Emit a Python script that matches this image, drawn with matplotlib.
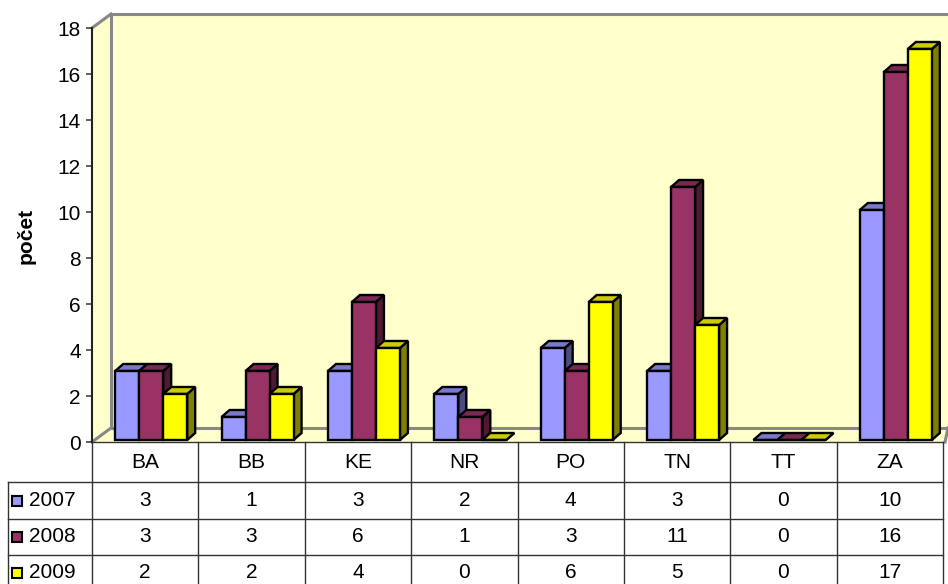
import matplotlib
matplotlib.use("Agg")
import matplotlib.pyplot as plt
from matplotlib.patches import Polygon, Rectangle
from matplotlib.transforms import blended_transform_factory
from matplotlib.lines import Line2D

plt.rcParams['font.family'] = ['Liberation Sans', 'DejaVu Sans']

categories = ["BA", "BB", "KE", "NR", "PO", "TN", "TT", "ZA"]
series_names = ["2007", "2008", "2009"]
v2007 = [3, 1, 3, 2, 4, 3, 0, 10]
v2008 = [3, 3, 6, 1, 3, 11, 0, 16]
v2009 = [2, 2, 4, 0, 6, 5, 0, 17]
values = [v2007, v2008, v2009]
yticks = list(range(0, 19, 2))
ylabel = "počet"

front_cols = ["#9999FF", "#993366", "#FFFF00"]
top_cols = ["#7A7ACC", "#7A2952", "#CCCC00"]
side_cols = ["#4C4C80", "#4D1933", "#808000"]

FS = 15
W, H = 948, 584
fig = plt.figure(figsize=(W / 100, H / 100), dpi=100)
fig.patch.set_facecolor("white")

# axes region in pixels
L, R, B, T = 92, 943, 442, 28
ax = fig.add_axes([L / W, (H - B) / H, (R - L) / W, (B - T) / H])
ax.set_xlim(-0.5, len(categories) - 0.5)
ax.set_ylim(0, 18)
ax.patch.set_visible(False)
for s in ["top", "right", "bottom"]:
    ax.spines[s].set_visible(False)
ax.spines["left"].set_color("#222222")
ax.spines["left"].set_linewidth(1.5)
ax.set_xticks([])
ax.set_yticks(yticks)
ax.tick_params(axis="y", length=4.5, width=1.2, color="#444444", labelsize=FS, pad=3.5)

pxx = (R - L) / len(categories)  # pixels per x unit
pxy = (B - T) / 18.0              # pixels per y unit
DX, DY = 19 / pxx, 14 / pxy       # wall depth
xl = -0.5
xr = len(categories) - 0.5 + 5 / pxx
wall_c = "#FFFFCC"
edge_c = "#888888"

# walls and floor
ax.add_patch(Polygon([(xl + DX, DY), (xr, DY), (xr, 18 + DY), (xl + DX, 18 + DY)],
                     closed=True, fc=wall_c, ec="none", clip_on=False, zorder=0))
ax.add_patch(Polygon([(xl, 0), (xl, 18), (xl + DX, 18 + DY), (xl + DX, DY)],
                     closed=True, fc=wall_c, ec="none", clip_on=False, zorder=0))
ax.add_patch(Polygon([(xl, 0), (xl + DX, DY), (xr, DY), (xr - 3 / pxx, 0)],
                     closed=True, fc=wall_c, ec="none", clip_on=False, zorder=0))
for xs, ys in [([xl + DX, xl + DX], [DY, 18 + DY]),
               ([xl + DX, xr], [18 + DY, 18 + DY]),
               ([xl, xl + DX], [18, 18 + DY]),
               ([xl, xl + DX], [0, DY]),
               ([xl + DX, xr], [DY, DY]),
               ([xr - 3 / pxx, xr], [0, DY])]:
    ax.add_line(Line2D(xs, ys, color=edge_c, lw=2.2, clip_on=False, zorder=1))

# bars
w = 24 / pxx
shift = 6 / pxx
bdx, bdy = 8 / pxx, 7 / pxy
y0 = 2 / pxy
for i, cat in enumerate(categories):
    for j in range(3):
        v = values[j][i]
        x0 = i - 1.5 * w + j * w + shift
        z = 3 + i * 3 + j
        side = [(x0 + w, y0), (x0 + w + bdx, y0 + bdy), (x0 + w + bdx, y0 + v + bdy), (x0 + w, y0 + v)]
        top = [(x0, y0 + v), (x0 + bdx, y0 + v + bdy), (x0 + w + bdx, y0 + v + bdy), (x0 + w, y0 + v)]
        ax.add_patch(Polygon(side, closed=True, fc=side_cols[j], ec="black", lw=1.7,
                             joinstyle="miter", clip_on=False, zorder=z))
        ax.add_patch(Polygon(top, closed=True, fc=top_cols[j], ec="black", lw=1.7,
                             joinstyle="miter", clip_on=False, zorder=z))
        ax.add_patch(Rectangle((x0, y0), w, v, fc=front_cols[j], ec="black", lw=1.7,
                               joinstyle="miter", clip_on=False, zorder=z))

fig.text(26 / W, 1 - 236 / H, ylabel, rotation=90, fontsize=FS, fontweight="bold",
         ha="center", va="center")

# data table
tr = blended_transform_factory(ax.transData, fig.transFigure)
def fy(p):
    return 1 - p / H

line_c = "#333333"
row_lines = [482, 519, 555]
header_mid = 463
row_mid = [501, 537, 573]
xa, xb = -0.5, len(categories) - 0.5
fig.add_artist(Line2D([xa, xb], [fy(B), fy(B)], transform=tr, color=line_c, lw=1))
for yl in row_lines:
    fig.add_artist(Line2D([8 / W, R / W], [fy(yl), fy(yl)], transform=fig.transFigure, color=line_c, lw=1))
for k in range(len(categories) + 1):
    xk = -0.5 + k
    fig.add_artist(Line2D([xk, xk], [fy(B), 0], transform=tr, color=line_c, lw=1))
fig.add_artist(Line2D([8 / W, 8 / W], [fy(row_lines[0]), 0], transform=fig.transFigure, color=line_c, lw=1))

for i, cat in enumerate(categories):
    fig.text(i, fy(header_mid), cat, transform=tr, ha="center", va="center", fontsize=FS)
    for j in range(3):
        fig.text(i, fy(row_mid[j]), str(values[j][i]), transform=tr, ha="center",
                 va="center", fontsize=FS)
for j, name in enumerate(series_names):
    fig.add_artist(Rectangle((12 / W, fy(row_mid[j] + 5)), 10 / W, 10 / H,
                             transform=fig.transFigure, fc=front_cols[j], ec="black", lw=1.5))
    fig.text(29 / W, fy(row_mid[j]), name, ha="left", va="center", fontsize=FS)

fig.savefig("out.png", dpi=100)
